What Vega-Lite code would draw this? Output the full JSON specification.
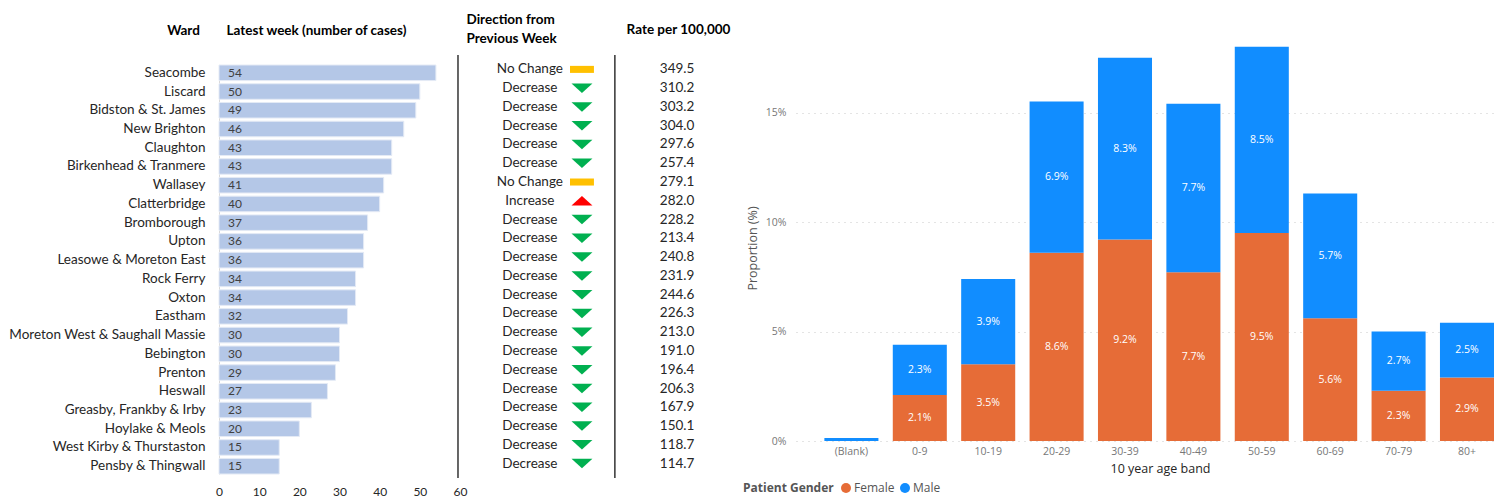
{
  "$schema": "https://vega.github.io/schema/vega-lite/v6.json",
  "padding": {"left": 8, "top": 12, "right": 0, "bottom": 0},
  "autosize": {"type": "pad"},
  "background": "white",
  "spacing": 0,
  "bounds": "flush",
  "config": {
    "view": {"stroke": null},
    "font": "Lato",
    "axis": {"labelFont": "Lato", "titleFont": "Lato"}
  },
  "datasets": {
    "wards": [
      {"ward": "Seacombe", "cases": 54, "direction": "No Change", "rate": 349.5},
      {"ward": "Liscard", "cases": 50, "direction": "Decrease", "rate": 310.2},
      {"ward": "Bidston & St. James", "cases": 49, "direction": "Decrease", "rate": 303.2},
      {"ward": "New Brighton", "cases": 46, "direction": "Decrease", "rate": 304.0},
      {"ward": "Claughton", "cases": 43, "direction": "Decrease", "rate": 297.6},
      {"ward": "Birkenhead & Tranmere", "cases": 43, "direction": "Decrease", "rate": 257.4},
      {"ward": "Wallasey", "cases": 41, "direction": "No Change", "rate": 279.1},
      {"ward": "Clatterbridge", "cases": 40, "direction": "Increase", "rate": 282.0},
      {"ward": "Bromborough", "cases": 37, "direction": "Decrease", "rate": 228.2},
      {"ward": "Upton", "cases": 36, "direction": "Decrease", "rate": 213.4},
      {"ward": "Leasowe & Moreton East", "cases": 36, "direction": "Decrease", "rate": 240.8},
      {"ward": "Rock Ferry", "cases": 34, "direction": "Decrease", "rate": 231.9},
      {"ward": "Oxton", "cases": 34, "direction": "Decrease", "rate": 244.6},
      {"ward": "Eastham", "cases": 32, "direction": "Decrease", "rate": 226.3},
      {"ward": "Moreton West & Saughall Massie", "cases": 30, "direction": "Decrease", "rate": 213.0},
      {"ward": "Bebington", "cases": 30, "direction": "Decrease", "rate": 191.0},
      {"ward": "Prenton", "cases": 29, "direction": "Decrease", "rate": 196.4},
      {"ward": "Heswall", "cases": 27, "direction": "Decrease", "rate": 206.3},
      {"ward": "Greasby, Frankby & Irby", "cases": 23, "direction": "Decrease", "rate": 167.9},
      {"ward": "Hoylake & Meols", "cases": 20, "direction": "Decrease", "rate": 150.1},
      {"ward": "West Kirby & Thurstaston", "cases": 15, "direction": "Decrease", "rate": 118.7},
      {"ward": "Pensby & Thingwall", "cases": 15, "direction": "Decrease", "rate": 114.7}
    ],
    "ages": [
      {"band": "(Blank)", "gender": "Female", "share": 0},
      {"band": "(Blank)", "gender": "Male", "share": 0.0014},
      {"band": "0-9", "gender": "Female", "share": 0.021},
      {"band": "0-9", "gender": "Male", "share": 0.023},
      {"band": "10-19", "gender": "Female", "share": 0.035},
      {"band": "10-19", "gender": "Male", "share": 0.039},
      {"band": "20-29", "gender": "Female", "share": 0.086},
      {"band": "20-29", "gender": "Male", "share": 0.069},
      {"band": "30-39", "gender": "Female", "share": 0.092},
      {"band": "30-39", "gender": "Male", "share": 0.083},
      {"band": "40-49", "gender": "Female", "share": 0.077},
      {"band": "40-49", "gender": "Male", "share": 0.077},
      {"band": "50-59", "gender": "Female", "share": 0.095},
      {"band": "50-59", "gender": "Male", "share": 0.085},
      {"band": "60-69", "gender": "Female", "share": 0.056},
      {"band": "60-69", "gender": "Male", "share": 0.057},
      {"band": "70-79", "gender": "Female", "share": 0.023},
      {"band": "70-79", "gender": "Male", "share": 0.027},
      {"band": "80+", "gender": "Female", "share": 0.029},
      {"band": "80+", "gender": "Male", "share": 0.025}
    ]
  },
  "resolve": {"scale": {"x": "independent", "y": "independent", "color": "independent", "shape": "independent"}},
  "hconcat": [
    {
      "width": 241,
      "height": 423,
      "layer": [
        {
          "data": {"name": "wards"},
          "mark": {"type": "bar", "color": "#B4C7E7", "stroke": "#E4EAF5", "strokeWidth": 1},
          "encoding": {
            "y": {"field": "ward", "type": "nominal", "sort": null,
              "scale": {"range": [10, 419], "paddingInner": 0.17, "paddingOuter": 0},
              "axis": {"labelFontSize": 13.5, "labelColor": "#262626", "labelPadding": 14, "labelLimit": 300,
                "ticks": false, "domain": true, "domainColor": "#D9D9D9", "grid": false,
                "title": "Ward", "titleAngle": 0, "titleX": -36, "titleY": -25, "titleAlign": "center",
                "titleBaseline": "middle", "titleFontSize": 13.5, "titleFontWeight": "bold", "titleColor": "#000000"}},
            "x": {"field": "cases", "type": "quantitative", "scale": {"domain": [0, 60], "nice": false},
              "axis": {"values": [0, 10, 20, 30, 40, 50, 60], "labelFontSize": 12, "labelColor": "#262626",
                "labelPadding": 8, "labelFlush": false, "ticks": false, "domain": false, "grid": false,
                "title": "Latest week (number of cases)", "titleX": 7, "titleY": -448, "titleAlign": "left",
                "titleBaseline": "middle", "titleFontSize": 13.5, "titleFontWeight": "bold", "titleColor": "#000000"}}
          }
        },
        {
          "data": {"name": "wards"},
          "mark": {"type": "text", "align": "left", "dx": 9, "fontSize": 12, "color": "#404040", "baseline": "middle"},
          "encoding": {
            "y": {"field": "ward", "type": "nominal", "sort": null},
            "x": {"datum": 0, "type": "quantitative"},
            "text": {"field": "cases", "type": "quantitative"}
          }
        },
        {
          "data": {"values": [{}]},
          "mark": {"type": "rule", "color": "#000000", "strokeWidth": 1.2},
          "encoding": {"x": {"datum": 59.5, "type": "quantitative"}}
        }
      ]
    },
    {
      "width": 336,
      "height": 423,
      "layer": [
        {
          "data": {"name": "wards"},
          "mark": {"type": "text", "fontSize": 13.5, "color": "#262626", "baseline": "middle"},
          "encoding": {
            "y": {"field": "ward", "type": "nominal", "sort": null,
              "scale": {"range": [5, 418], "paddingInner": 0.17, "paddingOuter": 0},
              "axis": {"labels": false, "ticks": false, "domain": false, "grid": false,
                "title": ["Direction from", "Previous Week"], "titleAngle": 0, "titleAlign": "left",
                "titleBaseline": "top", "titleX": 6, "titleY": -43, "titleLineHeight": 19,
                "titleFontSize": 13.5, "titleFontWeight": "bold", "titleColor": "#000000"}},
            "x": {"datum": 0.208, "type": "quantitative", "scale": {"domain": [0, 1], "nice": false},
              "axis": {"orient": "top", "labels": false, "ticks": false, "domain": false, "grid": false,
                "title": "Rate per 100,000", "titleX": 218, "titleY": -26, "titleAlign": "center",
                "titleBaseline": "middle", "titleFontSize": 13.5, "titleFontWeight": "bold", "titleColor": "#000000"}},
            "text": {"field": "direction", "type": "nominal"}
          }
        },
        {
          "data": {"name": "wards"},
          "mark": {"type": "point", "filled": true, "opacity": 1, "size": 361, "strokeWidth": 0},
          "encoding": {
            "y": {"field": "ward", "type": "nominal", "sort": null},
            "x": {"datum": 0.363, "type": "quantitative"},
            "shape": {"field": "direction", "type": "nominal",
              "scale": {"domain": ["No Change", "Decrease", "Increase"],
                "range": ["M-1.26,-0.37H1.26V0.37H-1.26Z", "M-1.1,-0.5H1.1L0,0.5Z", "M-1.1,0.5H1.1L0,-0.5Z"]},
              "legend": null},
            "color": {"field": "direction", "type": "nominal",
              "scale": {"domain": ["No Change", "Decrease", "Increase"], "range": ["#FFC000", "#00B050", "#FF0000"]},
              "legend": null}
          }
        },
        {
          "data": {"name": "wards"},
          "mark": {"type": "text", "fontSize": 13.5, "color": "#262626", "baseline": "middle"},
          "encoding": {
            "y": {"field": "ward", "type": "nominal", "sort": null},
            "x": {"datum": 0.646, "type": "quantitative"},
            "text": {"field": "rate", "type": "quantitative", "format": ".1f"}
          }
        },
        {
          "data": {"values": [{}]},
          "mark": {"type": "rule", "color": "#000000", "strokeWidth": 1.2},
          "encoding": {"x": {"datum": 0.461, "type": "quantitative"}}
        }
      ]
    },
    {
      "width": 698,
      "height": 386,
      "data": {"name": "ages"},
      "layer": [
        {
          "mark": {"type": "bar"},
          "encoding": {
            "x": {"field": "band", "type": "nominal", "sort": null,
              "scale": {"domain": ["(Blank)", "0-9", "10-19", "20-29", "30-39", "40-49", "50-59", "60-69", "70-79", "80+"],
                "paddingInner": 0.21, "paddingOuter": 0.2075, "align": 1},
              "axis": {"labelAngle": 0, "labelFont": "Open Sans", "labelFontSize": 10.5, "labelColor": "#777777",
                "labelPadding": 5, "ticks": false, "domain": false, "grid": false,
                "title": "10 year age band", "titleFont": "Open Sans", "titleFontSize": 12.5,
                "titleColor": "#252423", "titlePadding": 6, "titleFontWeight": "normal", "titleX": 364, "titleAlign": "center"}},
            "y": {"field": "share", "type": "quantitative", "stack": "zero",
              "scale": {"domain": [0, 0.17626], "nice": false},
              "title": "Proportion (%)",
              "axis": {"values": [0, 0.05, 0.1, 0.15], "format": ".0%", "labelFont": "Open Sans",
                "labelFontSize": 10.5, "labelColor": "#777777", "labelPadding": 10, "ticks": false,
                "domain": false, "grid": true, "gridColor": "#C8C8C8", "gridDash": [1, 5], "gridWidth": 1,
                "titleFont": "Open Sans", "titleFontSize": 12.5, "titleColor": "#555555",
                "titleFontWeight": "normal", "titlePadding": 6}},
            "order": {"field": "gender", "type": "nominal", "sort": "ascending"},
            "color": {"field": "gender", "type": "nominal",
              "scale": {"domain": ["Female", "Male"], "range": ["#E66C37", "#118DFF"]},
              "legend": {"orient": "none", "legendX": -53, "legendY": 427, "direction": "horizontal",
                "titleOrient": "left", "title": "Patient Gender", "titleFont": "Open Sans", "titleFontSize": 12,
                "titleFontWeight": "bold", "titleColor": "#555555", "labelFont": "Open Sans", "labelFontSize": 12,
                "labelColor": "#555555", "symbolType": "circle", "symbolSize": 100, "symbolStrokeWidth": 0,
                "symbolOpacity": 1, "columnPadding": 4, "labelOffset": 2, "titlePadding": 6}}
          }
        },
        {
          "transform": [
            {"filter": "datum.share > 0.005"},
            {"stack": "share", "groupby": ["band"], "sort": [{"field": "gender", "order": "ascending"}], "as": ["y0", "y1"]},
            {"calculate": "(datum.y0 + datum.y1) / 2", "as": "mid"}
          ],
          "mark": {"type": "text", "color": "white", "fontSize": 10.5, "font": "Open Sans", "baseline": "middle"},
          "encoding": {
            "x": {"field": "band", "type": "nominal", "sort": null},
            "y": {"field": "mid", "type": "quantitative", "title": "Proportion (%)"},
            "text": {"field": "share", "type": "quantitative", "format": ".1%"}
          }
        }
      ]
    }
  ]
}
